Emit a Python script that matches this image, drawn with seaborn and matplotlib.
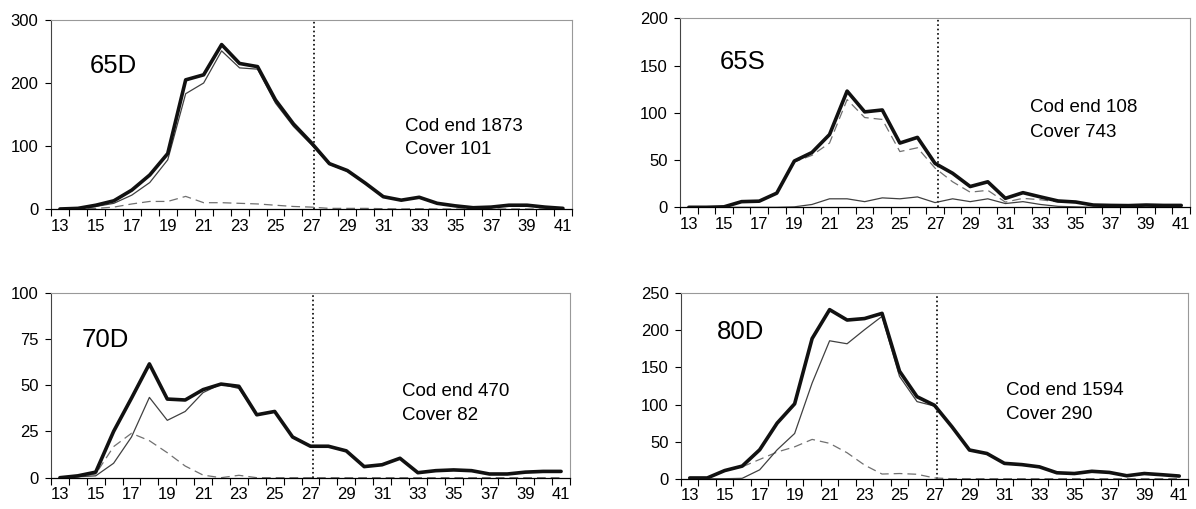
import numpy as np
import pandas as pd
import matplotlib
matplotlib.use("Agg")
import matplotlib.pyplot as plt
import seaborn as sns
from matplotlib.ticker import FixedLocator

# ---- data -------------------------------------------------------------
lengths = list(range(13, 42))

d65_total = [0, 1, 6, 13, 30, 54, 88, 205, 213, 261, 231, 226, 173, 135, 105,
             72, 61, 41, 19.5, 14, 18.6, 9, 5, 2, 3, 6, 6, 3, 1]
d65_cod = [0, 0.5, 4, 9, 22, 42, 78, 183, 200, 251, 224, 222, 168, 131, 102,
           71, 60, 40, 19, 14, 18, 9, 5, 2, 3, 6, 6, 3, 1]
d65_cov = [0, 0.5, 1, 3, 8, 12, 12, 20, 10, 10, 9, 8, 6, 4, 3,
           1, 1, 1, 0.5, 0, 0.5, 0, 0, 0, 0, 0, 0, 0, 0]

s65_total = [0, 0, 0.5, 6, 6.5, 15, 49, 58, 77, 123, 101, 103, 68, 74, 46.5,
             36, 22, 27, 9.5, 15.5, 11, 6.7, 5.6, 2.4, 2, 1.8, 2.4, 2, 2]
s65_cod = [0, 0, 0, 0, 0, 0, 0.5, 3, 9, 9, 6, 10, 9, 11, 5,
           9, 6, 9, 4, 6, 3, 1, 0.5, 0, 0, 0, 0, 0, 0]
s65_cov = [0, 0, 0.5, 6, 6.5, 15, 48, 55, 68, 114, 95, 93, 59, 63, 41.5,
           27, 16, 18, 5.5, 9.5, 8, 5.7, 5.1, 2.4, 2, 1.8, 2.4, 2, 2]

d70_total = [0, 1, 3, 25, 43, 61.5, 42.5, 42, 47.6, 50.6, 49.4, 34, 35.8, 22, 17,
             17, 14.5, 6, 7, 10.5, 2.7, 3.8, 4.2, 3.8, 2, 2, 3, 3.4, 3.4]
d70_cod = [0, 0.5, 1, 7.8, 22, 43.4, 31, 35.8, 46, 50.6, 48.2, 34, 35.8, 22, 17,
           17, 14.5, 6, 7, 10.5, 2.7, 3.8, 4.2, 3.8, 2, 2, 3, 3.4, 3.4]
d70_cov = [0, 0.5, 2, 16.8, 24, 20, 13.5, 6.3, 1.4, 0, 1.3, 0, 0, 0, 0,
           0, 0, 0, 0, 0, 0, 0, 0, 0, 0, 0, 0, 0, 0]

d80_total = [1, 1, 11, 17, 39, 75, 101, 189, 228, 214, 216, 223, 145, 110.6, 99,
             70, 38.7, 34, 20.7, 19, 16, 8, 7, 10, 8.5, 4, 7, 5.4, 3.6]
d80_cod = [0, 0, 0, 0.5, 12, 39, 61, 129, 186, 182, 201, 219, 138, 104, 98,
           70, 38.7, 34, 20.7, 19, 16, 8, 7, 10, 8.5, 4, 7, 5.4, 3.6]
d80_cov = [0, 1, 11, 16, 26, 36, 43, 53, 47.7, 35, 18.4, 6.3, 7, 6, 1,
           0, 0, 0, 0, 0, 0, 0, 0, 0, 0, 0, 0, 0, 0]

panel_names = ["65D", "65S", "70D", "80D"]
cod_counts = [1873, 108, 470, 1594]
cover_counts = [101, 743, 82, 290]
y_max = [300, 200, 100, 250]
y_step = [100, 50, 25, 50]
mesh_line = 27.15

# ---- figure -----------------------------------------------------------
sns.set_style("white")
plt.rcParams["font.family"] = ["Liberation Sans", "DejaVu Sans"]
plt.rcParams["text.color"] = "black"
plt.rcParams["xtick.color"] = "black"
plt.rcParams["ytick.color"] = "black"
plt.rcParams["xtick.labelcolor"] = "black"
plt.rcParams["ytick.labelcolor"] = "black"

fig = plt.figure(figsize=(11.96, 5.09), dpi=100)
positions = [
    [0.0426, 0.5894, 0.4356, 0.3713],
    [0.5686, 0.5927, 0.4264, 0.3713],
    [0.0426, 0.0615, 0.4340, 0.3635],
    [0.5694, 0.0595, 0.4239, 0.3642],
]
label_xy = [(0.075, 0.72), (0.077, 0.73), (0.059, 0.705), (0.070, 0.753)]
text_xy = [(0.68, 0.414, 0.29), (0.686, 0.503, 0.37),
           (0.676, 0.443, 0.312), (0.642, 0.451, 0.32)]

series = [
    (d65_total, d65_cod, d65_cov),
    (s65_total, s65_cod, s65_cov),
    (d70_total, d70_cod, d70_cov),
    (d80_total, d80_cod, d80_cov),
]

for i in range(4):
    ax = fig.add_axes(positions[i])
    total, cod, cov = series[i]
    sns.lineplot(x=lengths, y=cov, ax=ax, color="#707070", lw=0.9,
                 linestyle=(0, (7, 4)), zorder=2)
    sns.lineplot(x=lengths, y=cod, ax=ax, color="#404040", lw=0.9, zorder=3)
    sns.lineplot(x=lengths, y=total, ax=ax, color="#111111", lw=2.6, zorder=4)
    ax.axvline(mesh_line, color="black", linestyle=":", lw=1.2, zorder=1)

    ax.set_xlim(12.5, 41.5)
    ax.set_ylim(0, y_max[i])
    ax.set_yticks(list(range(0, y_max[i] + 1, y_step[i])))
    ax.xaxis.set_major_locator(FixedLocator(list(range(13, 42, 2))))
    ax.xaxis.set_minor_locator(FixedLocator(list(np.arange(12.5, 42.0, 1.0))))
    ax.tick_params(axis="both", which="both", left=True, bottom=True)
    ax.tick_params(axis="x", which="major", length=0, pad=7, labelsize=12)
    ax.tick_params(axis="x", which="minor", length=5, width=0.8,
                   direction="out", color="black")
    ax.tick_params(axis="y", which="major", length=4, width=0.8,
                   direction="out", color="black", pad=5, labelsize=12)
    ax.tick_params(axis="y", which="minor", left=False)
    ax.set_xlabel("")
    ax.set_ylabel("")
    for s in ["top", "right"]:
        ax.spines[s].set_color("#999999")
        ax.spines[s].set_linewidth(0.8)
    ax.spines["left"].set_color("#444444")
    ax.spines["left"].set_linewidth(0.8)
    ax.spines["bottom"].set_color("black")
    ax.spines["bottom"].set_linewidth(0.9)
    ax.grid(False)

    lx, ly = label_xy[i]
    ax.text(lx, ly, panel_names[i], transform=ax.transAxes, fontsize=18.5,
            va="baseline", ha="left", color="black")
    tx, ty1, ty2 = text_xy[i]
    ax.text(tx, ty1, f"Cod end {cod_counts[i]}", transform=ax.transAxes,
            fontsize=13.5, va="baseline", ha="left", color="black")
    ax.text(tx, ty2, f"Cover {cover_counts[i]}", transform=ax.transAxes,
            fontsize=13.5, va="baseline", ha="left", color="black")

fig.savefig("out.png", dpi=100)
